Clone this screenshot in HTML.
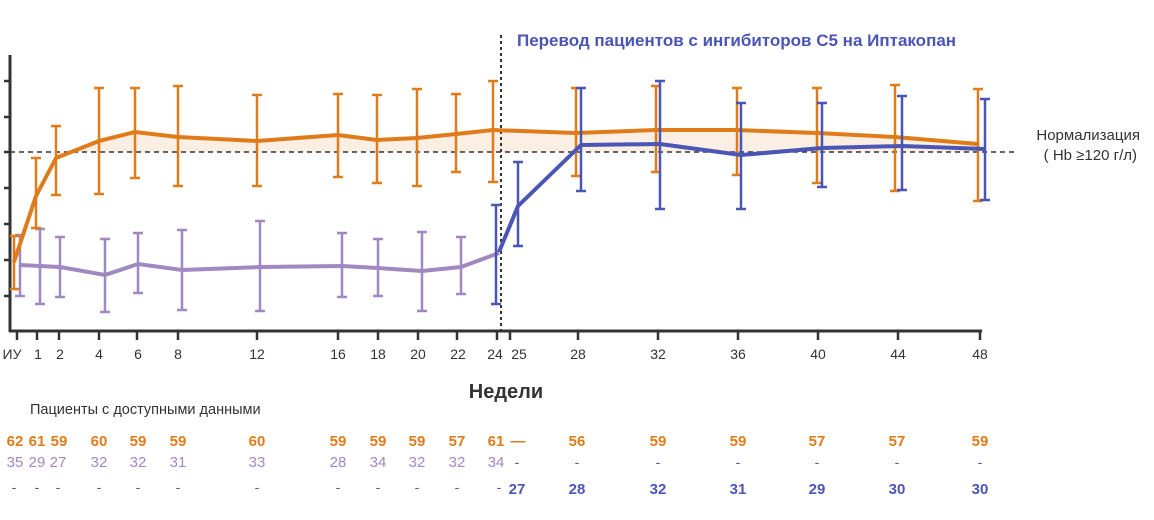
<!DOCTYPE html>
<html><head><meta charset="utf-8"><style>
html,body{margin:0;padding:0;background:#fff;}
svg{display:block;font-family:"Liberation Sans",sans-serif;}
</style></head><body>
<svg width="1154" height="520" viewBox="0 0 1154 520">
<polygon points="53,152 57,158 99,141 137,132 178,137 257,141 338,135 378,140 418,138 457,134 497,130 578,133 658,130 738,130 818,133 898,137 980,144 980,152" fill="#fbeee2"/>
<g stroke="#333" stroke-width="3" fill="none">
<line x1="10" y1="55" x2="10" y2="332"/>
<line x1="9" y1="331" x2="982" y2="331"/>
</g>
<g stroke="#333" stroke-width="2.5">
<line x1="4" y1="81" x2="10" y2="81"/><line x1="4" y1="117" x2="10" y2="117"/><line x1="4" y1="152" x2="10" y2="152"/><line x1="4" y1="188" x2="10" y2="188"/><line x1="4" y1="224" x2="10" y2="224"/><line x1="4" y1="260" x2="10" y2="260"/><line x1="4" y1="296" x2="10" y2="296"/>
<line x1="17" y1="331" x2="17" y2="340"/><line x1="37" y1="331" x2="37" y2="340"/><line x1="59" y1="331" x2="59" y2="340"/><line x1="99" y1="331" x2="99" y2="340"/><line x1="137" y1="331" x2="137" y2="340"/><line x1="178" y1="331" x2="178" y2="340"/><line x1="257" y1="331" x2="257" y2="340"/><line x1="338" y1="331" x2="338" y2="340"/><line x1="378" y1="331" x2="378" y2="340"/><line x1="418" y1="331" x2="418" y2="340"/><line x1="457" y1="331" x2="457" y2="340"/><line x1="497" y1="331" x2="497" y2="340"/><line x1="510" y1="331" x2="510" y2="340"/><line x1="578" y1="331" x2="578" y2="340"/><line x1="658" y1="331" x2="658" y2="340"/><line x1="738" y1="331" x2="738" y2="340"/><line x1="818" y1="331" x2="818" y2="340"/><line x1="898" y1="331" x2="898" y2="340"/><line x1="980" y1="331" x2="980" y2="340"/>
</g>
<line x1="10" y1="152" x2="1014" y2="152" stroke="#333" stroke-width="1.5" stroke-dasharray="5,4"/>
<line x1="501" y1="35" x2="501" y2="330" stroke="#333" stroke-width="2" stroke-dasharray="3,3"/>
<g stroke="#a088c0" stroke-width="2.5" fill="none">
<path d="M20,235V296M15,235h10M15,296h10 M40,229V304M35,229h10M35,304h10 M60,237V297M55,237h10M55,297h10 M105,239V312M100,239h10M100,312h10 M138,233V293M133,233h10M133,293h10 M182,230V310M177,230h10M177,310h10 M260,221V311M255,221h10M255,311h10 M342,233V297M337,233h10M337,297h10 M378,239V296M373,239h10M373,296h10 M422,232V311M417,232h10M417,311h10 M461,237V294M456,237h10M456,294h10"/>
<polyline stroke-width="4" points="20,265 40,266 60,267 105,275 138,264 182,270 260,267 342,266 378,268 422,271 461,267 499,253"/>
</g>
<g stroke="#e07b1a" stroke-width="2.5" fill="none">
<path d="M14,236V289M10,236h9M10,289h9 M36,158V228M31,158h10M31,228h10 M56,126V195M51,126h10M51,195h10 M99,88V194M94,88h10M94,194h10 M135,88V178M130,88h10M130,178h10 M178,86V186M173,86h10M173,186h10 M257,95V186M252,95h10M252,186h10 M338,94V177M333,94h10M333,177h10 M377,95V183M372,95h10M372,183h10 M417,89V186M412,89h10M412,186h10 M456,94V172M451,94h10M451,172h10 M493,81V182M488,81h10M488,182h10 M576,88V176M571,88h10M571,176h10 M656,86V172M651,86h10M651,172h10 M737,88V175M732,88h10M732,175h10 M817,88V183M812,88h10M812,183h10 M895,85V191M890,85h10M890,191h10 M978,89V201M973,89h10M973,201h10"/>
</g>
<polyline fill="none" stroke="#e07b1a" stroke-width="4" stroke-linejoin="round" points="14,262 36,196 56,158 99,141 135,132 178,137 257,141 338,135 377,140 417,138 456,134 493,130 576,133 656,130 737,130 817,133 895,137 978,144"/>
<g stroke="#4a55b5" stroke-width="2.5" fill="none">
<path d="M496,205V304M491,205h10M491,304h10 M518,162V246M513,162h10M513,246h10 M581,88V191M576,88h10M576,191h10 M660,81V209M655,81h10M655,209h10 M741,103V209M736,103h10M736,209h10 M822,103V187M817,103h10M817,187h10 M902,96V190M897,96h10M897,190h10 M985,99V200M980,99h10M980,200h10"/>
<polyline stroke-width="4" stroke-linejoin="round" points="499,252 518,206 581,145 660,144 741,155 822,148 902,146 985,149"/>
</g>
<text x="517" y="46" fill="#4a55b5" font-size="17" font-weight="bold">Перевод пациентов с ингибиторов С5 на Иптакопан</text>
<text x="1140" y="140" fill="#333" font-size="15" text-anchor="end">Нормализация</text>
<text x="1137" y="160" fill="#333" font-size="15" text-anchor="end">( Hb ≥120 г/л)</text>
<g fill="#333" font-size="14" text-anchor="middle">
<text x="12" y="359">ИУ</text><text x="38" y="359">1</text><text x="60" y="359">2</text><text x="99" y="359">4</text><text x="138" y="359">6</text><text x="178" y="359">8</text><text x="257" y="359">12</text><text x="338" y="359">16</text><text x="378" y="359">18</text><text x="418" y="359">20</text><text x="458" y="359">22</text><text x="495" y="359">24</text><text x="519" y="359">25</text><text x="578" y="359">28</text><text x="658" y="359">32</text><text x="738" y="359">36</text><text x="818" y="359">40</text><text x="898" y="359">44</text><text x="980" y="359">48</text>
</g>
<text x="506" y="398" fill="#333" font-size="20" font-weight="bold" text-anchor="middle">Недели</text>
<text x="30" y="414" fill="#333" font-size="14.5">Пациенты с доступными данными</text>
<g fill="#e07b1a" font-size="15" font-weight="bold" text-anchor="middle">
<text x="15" y="446">62</text><text x="37" y="446">61</text><text x="59" y="446">59</text><text x="99" y="446">60</text><text x="138" y="446">59</text><text x="178" y="446">59</text><text x="257" y="446">60</text><text x="338" y="446">59</text><text x="378" y="446">59</text><text x="417" y="446">59</text><text x="457" y="446">57</text><text x="496" y="446">61</text><text x="518" y="446">—</text><text x="577" y="446">56</text><text x="658" y="446">59</text><text x="738" y="446">59</text><text x="817" y="446">57</text><text x="897" y="446">57</text><text x="980" y="446">59</text>
</g>
<g fill="#a088c0" font-size="15" text-anchor="middle">
<text x="15" y="467">35</text><text x="37" y="467">29</text><text x="58" y="467">27</text><text x="99" y="467">32</text><text x="138" y="467">32</text><text x="178" y="467">31</text><text x="257" y="467">33</text><text x="338" y="467">28</text><text x="378" y="467">34</text><text x="417" y="467">32</text><text x="457" y="467">32</text><text x="496" y="467">34</text>
</g>
<g fill="#4a55b5" font-size="14" text-anchor="middle">
<text x="517" y="467">-</text><text x="577" y="467">-</text><text x="658" y="467">-</text><text x="738" y="467">-</text><text x="817" y="467">-</text><text x="897" y="467">-</text><text x="980" y="467">-</text>
<text x="14" y="492">-</text><text x="37" y="492">-</text><text x="58" y="492">-</text><text x="99" y="492">-</text><text x="138" y="492">-</text><text x="178" y="492">-</text><text x="257" y="492">-</text><text x="338" y="492">-</text><text x="378" y="492">-</text><text x="417" y="492">-</text><text x="457" y="492">-</text><text x="499" y="492">-</text>
</g>
<g fill="#4a55b5" font-size="15" font-weight="bold" text-anchor="middle">
<text x="517" y="494">27</text><text x="577" y="494">28</text><text x="658" y="494">32</text><text x="738" y="494">31</text><text x="817" y="494">29</text><text x="897" y="494">30</text><text x="980" y="494">30</text>
</g>
</svg>
</body></html>
